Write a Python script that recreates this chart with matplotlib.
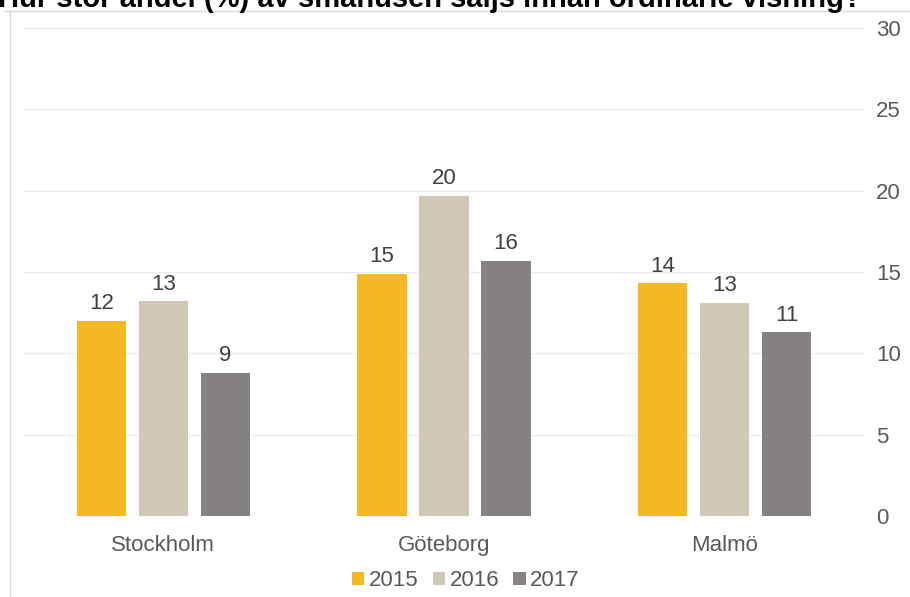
import matplotlib
matplotlib.use("Agg")
import matplotlib.pyplot as plt
import numpy as np

cities = ["Stockholm", "Göteborg", "Malmö"]
years = ["2015", "2016", "2017"]
share_2015 = [12.0, 14.9, 14.3]
share_2016 = [13.2, 19.7, 13.1]
share_2017 = [8.8, 15.7, 11.3]
y_ticks = [0, 5, 10, 15, 20, 25, 30]

colors = ["#F4B923", "#CFC8B6", "#878282"]
series = [share_2015, share_2016, share_2017]

plt.rcParams['font.family'] = ['Liberation Sans', 'DejaVu Sans']

W, H = 910, 597
fig = plt.figure(figsize=(W / 100, H / 100), dpi=100)
ax = fig.add_axes([23 / W, 1 - 516 / H, (865 - 23) / W, (516 - 28) / H])

x = np.arange(len(cities))
width = 0.175
step = 0.221
for i, (vals, col, yr) in enumerate(zip(series, colors, years)):
    pos = x + (i - 1) * step
    bars = ax.bar(pos, vals, width, color=col, label=yr, zorder=3)
    for b, v in zip(bars, vals):
        ax.text(b.get_x() + b.get_width() / 2, v + 0.4, f"{v:.0f}",
                ha="center", va="bottom", fontsize=16, color="#404040")

ax.set_xlim(-0.5, 2.5)
ax.set_ylim(0, 30)
ax.set_yticks(y_ticks)
ax.yaxis.tick_right()
ax.tick_params(axis="y", length=0, pad=8, labelsize=16, labelcolor="#595959")
ax.set_xticks(x)
ax.set_xticklabels(cities)
ax.tick_params(axis="x", length=0, pad=14, labelsize=16, labelcolor="#595959")
ax.grid(axis="y", color="#EDEDED", linewidth=1, zorder=0)
for s in ax.spines.values():
    s.set_visible(False)

leg = ax.legend(loc="upper center", bbox_to_anchor=(0.526, -0.07), ncol=3,
                frameon=False, fontsize=16, handlelength=0.55, handleheight=0.55,
                handletextpad=0.2, columnspacing=0.65)
for t in leg.get_texts():
    t.set_color("#595959")

# outer frame lines (top and left) and the title, cut at the top as in the source
fig.add_artist(plt.Line2D([5 / W, 1], [1 - 10.5 / H, 1 - 10.5 / H], color="#D9D9D9", lw=1))
fig.add_artist(plt.Line2D([9.5 / W, 9.5 / W], [0, 1 - 10.5 / H], color="#D9D9D9", lw=1))
fig.text(-2 / W, 1 - 7 / H, "Hur stor andel (%) av småhusen säljs innan ordinarie visning?",
         fontsize=21, fontweight="bold", color="black", ha="left", va="baseline")

fig.savefig("out.png", dpi=100)
